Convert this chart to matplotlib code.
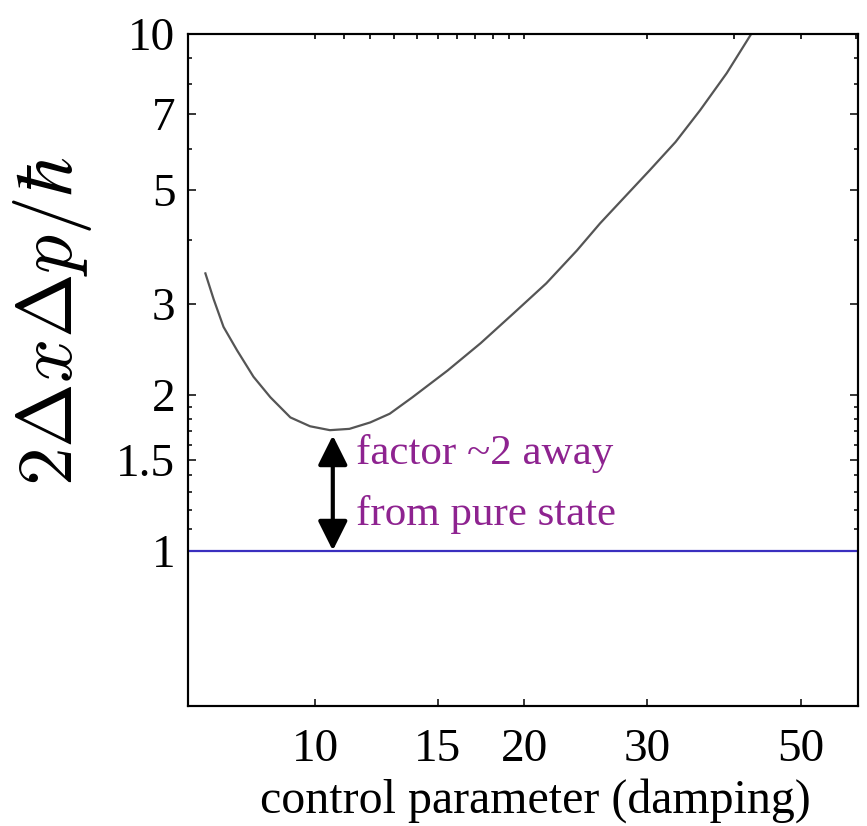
import matplotlib
matplotlib.use("Agg")
import matplotlib.pyplot as plt
from matplotlib.patches import FancyArrowPatch

plt.rcParams["font.family"] = ["Liberation Serif", "DejaVu Serif"]
plt.rcParams["mathtext.fontset"] = "cm"

# curve (damping, 2 dx dp / hbar)
damping = [6.95, 7.14, 7.38, 7.72, 8.15, 8.62, 9.21, 9.83, 10.5, 11.2, 12.0,
           12.8, 13.8, 15.5, 17.3, 19.3, 21.5, 23.8, 25.7, 27.9, 30.3, 33.0,
           35.8, 39.1, 42.3]
uncert = [3.44, 3.07, 2.71, 2.44, 2.17, 1.98, 1.81, 1.74, 1.71, 1.72, 1.77,
          1.84, 1.98, 2.23, 2.52, 2.88, 3.29, 3.81, 4.30, 4.84, 5.45, 6.18,
          7.12, 8.40, 9.95]

pure_state = 1.0
arrow_x = 10.6
arrow_top = 1.67

x_ticks = [10, 15, 20, 30, 50]
x_top_ticks = [10, 11, 12, 13, 14, 15, 16, 17, 18, 19, 20, 30, 40, 50, 60]
y_major = [1, 1.5, 2, 3, 5, 7, 10]
y_labels = ["1", "1.5", "2", "3", "5", "7", "10"]
y_minor = [1.1, 1.2, 1.3, 1.4, 1.6, 1.7, 1.8, 1.9, 4, 6, 8, 9]

fig = plt.figure(figsize=(8.67, 8.26), dpi=100)
ax = fig.add_axes([0.2168, 0.1453, 0.9896 - 0.2168, 0.9588 - 0.1453])

ax.plot(damping, uncert, color="#555555", lw=1.6)
ax.axhline(pure_state, color="#3a2fbf", lw=1.6)

ax.set_xscale("log")
ax.set_yscale("log")
ax.set_xlim(6.56, 60.4)
ax.set_ylim(0.5, 10)

ax.set_xticks(x_ticks)
ax.set_xticklabels([str(t) for t in x_ticks])
ax.xaxis.set_minor_locator(plt.NullLocator())
ax.set_yticks(y_major)
ax.set_yticklabels(y_labels)
ax.set_yticks(y_minor, minor=True)
ax.yaxis.set_minor_formatter(plt.NullFormatter())

ax.tick_params(axis="x", which="both", direction="in", top=False,
               length=5, width=1.1, labelsize=34, pad=16)
ax.tick_params(axis="y", which="major", direction="in", right=True,
               length=5.5, width=1.1, labelsize=34, pad=9)
ax.tick_params(axis="y", which="minor", direction="in", right=True,
               length=3, width=1.1)

# top edge carries its own (unlabelled) ticks
ax_top = ax.twiny()
ax_top.set_xscale("log")
ax_top.set_xlim(ax.get_xlim())
ax_top.set_xticks(x_top_ticks)
ax_top.set_xticklabels([])
ax_top.xaxis.set_minor_locator(plt.NullLocator())
ax_top.tick_params(axis="x", which="both", direction="in", length=3.5,
                   width=1.2, bottom=False, top=True)

for a in (ax, ax_top):
    for s in a.spines.values():
        s.set_linewidth(1.5)

arrow = FancyArrowPatch((arrow_x, pure_state), (arrow_x, arrow_top),
                        arrowstyle="<|-|>,head_length=0.6,head_width=0.3",
                        mutation_scale=30, color="black", lw=3,
                        shrinkA=0, shrinkB=0)
ax.add_patch(arrow)

ax.text(11.45, 1.346, "factor ~2 away\nfrom pure state", color="#8e2390",
        fontsize=31, ha="left", va="center", linespacing=1.75)

fig.text(0.618, 0.031, "control parameter (damping)", fontsize=34.5,
         ha="center", va="center")
fig.text(0.06, 0.611, r"$2\Delta x\Delta p/\hbar$", fontsize=56,
         rotation=90, ha="center", va="center")

fig.savefig("out.png", dpi=100)
